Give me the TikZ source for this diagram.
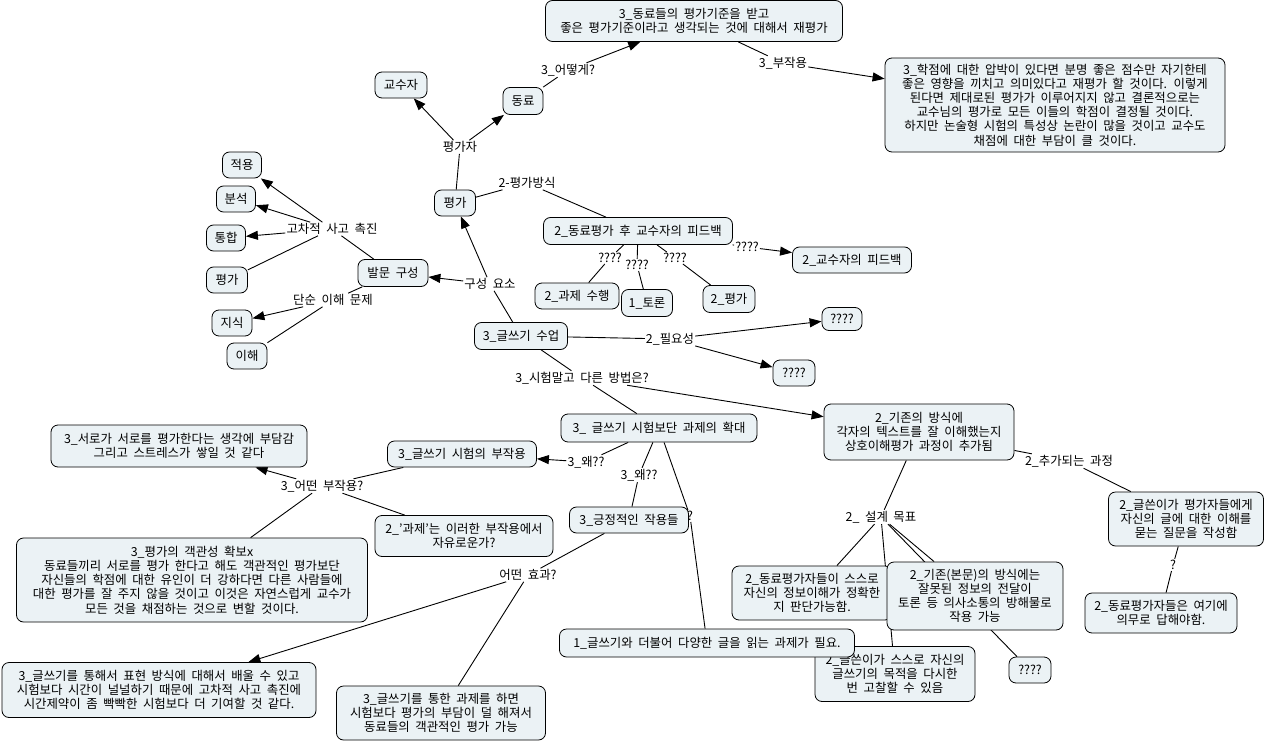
\documentclass[tikz,border=0pt]{standalone}
\usepackage{fontspec}
\setmainfont{Noto Sans CJK KR}[WordSpace=2.0]
\usetikzlibrary{arrows.meta,backgrounds}
\definecolor{cfill}{RGB}{235,242,245}
\newcommand\myfs{\fontsize{12.4}{14.2}\selectfont}
\begin{document}
\begin{tikzpicture}[x=1pt,y=-1pt,
 concept/.style={draw=black,line width=0.8pt,fill=cfill,rounded corners=7pt,align=center,inner xsep=3pt,inner ysep=2pt,font=\myfs},
 lbl/.style={inner sep=1pt,font=\myfs},
 link/.style={line width=0.9pt,draw=black},
 arr/.style={link,-{Triangle[length=12pt,width=9pt]}}]
\useasboundingbox (0,0) rectangle (1267,744);

% concepts
\node[concept,minimum width=297pt,minimum height=41pt] (top) at (694,21) {3\_동료들의 평가기준을 받고\\좋은 평가기준이라고 생각되는 것에 대해서 재평가};
\node[concept,minimum width=340pt,minimum height=94pt] (side) at (1055,105) {3\_학점에 대한 압박이 있다면 분명 좋은 점수만 자기한테\\좋은 영향을 끼치고 의미있다고 재평가 할 것이다. 이렇게\\된다면 제대로된 평가가 이루어지지 않고 결론적으로는\\교수님의 평가로 모든 이들의 학점이 결정될 것이다.\\하지만 논술형 시험의 특성상 논란이 많을 것이고 교수도\\채점에 대한 부담이 클 것이다.};
\node[concept,minimum width=52pt,minimum height=26pt] (gyosu) at (401,85) {교수자};
\node[concept,minimum width=40pt,minimum height=27pt] (dongryo) at (523,101) {동료};
\node[concept,minimum width=41pt,minimum height=26pt] (pyeongga) at (455,203) {평가};
\node[concept,minimum width=39pt,minimum height=26pt] (jeogyong) at (242,165) {적용};
\node[concept,minimum width=39pt,minimum height=26pt] (bunseok) at (236,199) {분석};
\node[concept,minimum width=39pt,minimum height=26pt] (tonghap) at (226,238) {통합};
\node[concept,minimum width=41pt,minimum height=26pt] (pyeongga2) at (227,280) {평가};
\node[concept,minimum width=40pt,minimum height=26pt] (jisik) at (232,323) {지식};
\node[concept,minimum width=40pt,minimum height=26pt] (ihae) at (247,356) {이해};
\node[concept,minimum width=70pt,minimum height=27pt] (balmun) at (393,273) {발문 구성};
\node[concept,minimum width=93pt,minimum height=27pt] (class) at (521,336) {3\_글쓰기 수업};
\node[concept,minimum width=189pt,minimum height=27pt] (feedback) at (638,231) {2\_동료평가 후 교수자의 피드백};
\node[concept,minimum width=119pt,minimum height=26pt] (gfeedback) at (852,260) {2\_교수자의 피드백};
\node[concept,minimum width=84pt,minimum height=26pt] (gwaje) at (577,296) {2\_과제 수행};
\node[concept,minimum width=51pt,minimum height=27pt] (toron) at (647,303) {1\_토론};
\node[concept,minimum width=52pt,minimum height=27pt] (pg3) at (729,299) {2\_평가};
\node[concept,minimum width=40pt,minimum height=23pt] (q1) at (842,319) {????};
\node[concept,minimum width=42pt,minimum height=26pt] (q2) at (794,373) {????};
\node[concept,minimum width=196pt,minimum height=28pt] (expand) at (659,428) {3\_ 글쓰기 시험보단 과제의 확대};
\node[concept,minimum width=190pt,minimum height=56pt] (existing) at (919,432) {2\_기존의 방식에\\각자의 텍스트를 잘 이해했는지\\상호이해평가 과정이 추가됨};
\node[concept,minimum width=149pt,minimum height=26pt] (sideeff) at (462,454) {3\_글쓰기 시험의 부작용};
\node[concept,minimum width=256pt,minimum height=42pt] (burden) at (179,446) {3\_서로가 서로를 평가한다는 생각에 부담감\\그리고 스트레스가 쌓일 것 같다};
\node[concept,minimum width=178pt,minimum height=41pt] (free) at (464,536) {2\_'과제'는 이러한 부작용에서\\자유로운가?};
\node[concept,minimum width=351pt,minimum height=84pt] (objective) at (192,580) {3\_평가의 객관성 확보x\\동료들끼리 서로를 평가 한다고 해도 객관적인 평가보단\\자신들의 학점에 대한 유인이 더 강하다면 다른 사람들에\\대한 평가를 잘 주지 않을 것이고 이것은 자연스럽게 교수가\\모든 것을 채점하는 것으로 변할 것이다.};
\node[concept,minimum width=119pt,minimum height=26pt] (positive) at (629,520) {3\_긍정적인 작용들};
\node[concept,minimum width=314pt,minimum height=55pt] (learn) at (159,690) {3\_글쓰기를 통해서 표현 방식에 대해서 배울 수 있고\\시험보다 시간이 널널하기 때문에 고차적 사고 촉진에\\시간제약이 좀 빡빡한 시험보다 더 기여할 것 같다.};
\node[concept,minimum width=209pt,minimum height=54pt] (task) at (441,713) {3\_글쓰기를 통한 과제를 하면\\시험보다 평가의 부담이 덜 해져서\\동료들의 객관적인 평가 가능};
\node[concept,minimum width=160pt,minimum height=55pt] (writer) at (895,674) {2\_글쓴이가 스스로 자신의\\글쓰기의 목적을 다시한\\번 고찰할 수 있음};
\node[concept,minimum width=295pt,minimum height=28pt] (reading) at (707,643) {1\_글쓰기와 더불어 다양한 글을 읽는 과제가 필요.};
\node[concept,minimum width=160pt,minimum height=54pt] (peers) at (812,593) {2\_동료평가자들이 스스로\\자신의 정보이해가 정확한\\지 판단가능함.};
\node[concept,minimum width=176pt,minimum height=68pt] (orig) at (975,596) {2\_기존(본문)의 방식에는\\잘못된 정보의 전달이\\토론 등 의사소통의 방해물로\\작용 가능};
\node[concept,minimum width=42pt,minimum height=26pt] (q3) at (1030,670) {????};
\node[concept,minimum width=155pt,minimum height=54pt] (question) at (1186,519) {2\_글쓴이가 평가자들에게\\자신의 글에 대한 이해를\\묻는 질문을 작성함};
\node[concept,minimum width=152pt,minimum height=40pt] (answer) at (1161,613) {2\_동료평가자들은 여기에\\의무로 답해야함.};

% linking phrases
\node[lbl] (Lpgj) at (460,147) {평가자};
\node[lbl] (Lhow) at (568,70) {3\_어떻게?};
\node[lbl] (Lside) at (783,63) {3\_부작용};
\node[lbl] (Lmethod) at (527,183) {2-평가방식};
\node[lbl] (Lqa) at (610,258) {????};
\node[lbl] (Lqb) at (637,265) {????};
\node[lbl] (Lqc) at (675,258) {????};
\node[lbl] (Lqd) at (747,247) {????};
\node[lbl] (Lcomp) at (490,284) {구성 요소};
\node[lbl] (Lhigh) at (332,229) {고차적 사고 촉진};
\node[lbl] (Lsimple) at (333,300) {단순 이해 문제};
\node[lbl] (Lneed) at (670,339) {2\_필요성};
\node[lbl] (Lother) at (582,378) {3\_시험말고 다른 방법은?};
\node[lbl] (Lwhy1) at (586,462) {3\_왜??};
\node[lbl] (Lwhy2) at (639,475) {3\_왜??};
\node[lbl] (Lqm) at (690,516) {?};
\node[lbl] (Lwhich) at (322,486) {3\_어떤 부작용?};
\node[lbl] (Leffect) at (528,575) {어떤 효과?};
\node[lbl] (Lgoal) at (881,517) {2\_ 설계 목표};
\node[lbl] (Ladd) at (1069,461) {2\_추가되는 과정};
\node[lbl] (Lqm2) at (1173,565) {?};

\begin{scope}[on background layer]
\draw[link] (pyeongga) -- (Lpgj);
\draw[arr] (Lpgj) -- (gyosu);
\draw[arr] (Lpgj) -- (dongryo);
\draw[link] (dongryo) -- (Lhow);
\draw[arr] (Lhow) -- (top);
\draw[link] (top) -- (Lside);
\draw[arr] (Lside) -- (side);
\draw[link] (pyeongga) -- (Lmethod);
\draw[link] (Lmethod) -- (feedback);
\draw[link] (feedback) -- (Lqa);
\draw[link] (Lqa) -- (gwaje);
\draw[link] (feedback) -- (Lqb);
\draw[link] (Lqb) -- (toron);
\draw[link] (feedback) -- (Lqc);
\draw[link] (Lqc) -- (pg3);
\draw[link] (feedback) -- (Lqd);
\draw[arr] (Lqd) -- (gfeedback);
\draw[link] (class) -- (Lcomp);
\draw[arr] (Lcomp) -- (pyeongga);
\draw[arr] (Lcomp) -- (balmun);
\draw[link] (balmun) -- (Lhigh);
\draw[arr] (Lhigh) -- (jeogyong);
\draw[arr] (Lhigh) -- (bunseok);
\draw[arr] (Lhigh) -- (tonghap);
\draw[link] (Lhigh) -- (pyeongga2);
\draw[link] (balmun) -- (Lsimple);
\draw[arr] (Lsimple) -- (jisik);
\draw[link] (Lsimple) -- (ihae);
\draw[link] (class) -- (Lneed);
\draw[arr] (Lneed) -- (q1);
\draw[arr] (Lneed) -- (q2);
\draw[link] (class) -- (Lother);
\draw[link] (Lother) -- (expand);
\draw[arr] (Lother) -- (existing);
\draw[link] (expand) -- (Lwhy1);
\draw[arr] (Lwhy1) -- (sideeff);
\draw[link] (expand) -- (Lwhy2);
\draw[link] (Lwhy2) -- (positive);
\draw[link] (expand) -- (Lqm);
\draw[link] (Lqm) -- (reading);
\draw[link] (sideeff) -- (Lwhich);
\draw[arr] (Lwhich) -- (burden);
\draw[link] (Lwhich) -- (free);
\draw[link] (Lwhich) -- (objective);
\draw[link] (positive) -- (Leffect);
\draw[arr] (Leffect) -- (learn);
\draw[link] (Leffect) -- (task);
\draw[link] (existing) -- (Lgoal);
\draw[link] (Lgoal) -- (peers);
\draw[link] (Lgoal) -- (orig);
\draw[link] (Lgoal) -- (writer);
\draw[link] (Lgoal) -- (q3);
\draw[link] (existing) -- (Ladd);
\draw[link] (Ladd) -- (question);
\draw[link] (question) -- (Lqm2);
\draw[link] (Lqm2) -- (answer);
\end{scope}
\end{tikzpicture}
\end{document}
